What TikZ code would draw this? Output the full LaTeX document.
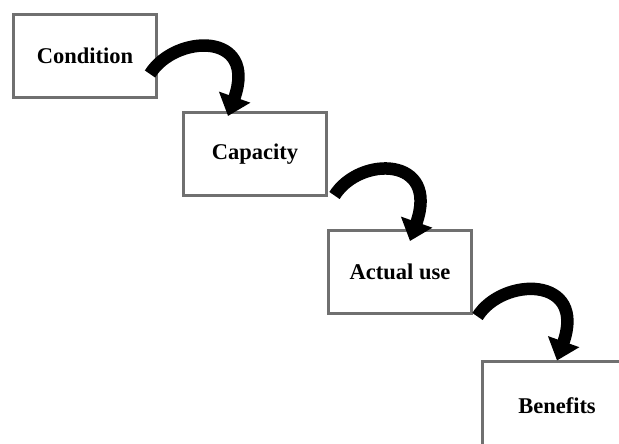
\documentclass[tikz,border=0pt]{standalone}
\usepackage{fontspec}
\setmainfont{Liberation Serif}
\usetikzlibrary{arrows.meta,calc}
\definecolor{boxgray}{RGB}{112,112,112}
\begin{document}
\begin{tikzpicture}[x=1pt,y=-1pt,
  stage/.style={draw=boxgray, line width=3pt, fill=white,
    minimum width=143pt, minimum height=83pt, inner sep=0pt,
    font=\fontsize{22.5}{26}\selectfont\bfseries},
  bigarrow/.style={line width=12.5pt, black,
    -{Triangle[width=32pt,length=20pt]}}]
\useasboundingbox (0,0) rectangle (619,444);
\clip (0,0) rectangle (619,444);
% the four stages, stepping down to the right
\node[stage] (b1) at (85,56)  {Condition};
\node[stage] (b2) at (255,154) {Capacity};
\node[stage] (b3) at (400,272) {Actual use};
\node[stage, minimum width=150pt, minimum height=90pt] (b4) at (557,406) {Benefits};
% start and end points of the curved arrows
\coordinate (s1) at ($(b1.east)+(-8,18)$);
\coordinate (t1) at ($(b2.north)+(-27,5)$);
\coordinate (s2) at ($(b2.south east)+(6.5,-1.5)$);
\coordinate (t2) at ($(b3.north)+(10,12)$);
\coordinate (s3) at ($(b3.south east)+(4.5,1.5)$);
\coordinate (t3) at ($(b4.north)+(0,1)$);
% curved arrows between consecutive stages
\draw[bigarrow] (s1) .. controls +(25,-40) and +(30,-85) .. (t1);
\draw[bigarrow] (s2) .. controls +(25,-40) and +(30,-85) .. (t2);
\draw[bigarrow] (s3) .. controls +(25,-40) and +(30,-85) .. (t3);
\end{tikzpicture}
\end{document}
